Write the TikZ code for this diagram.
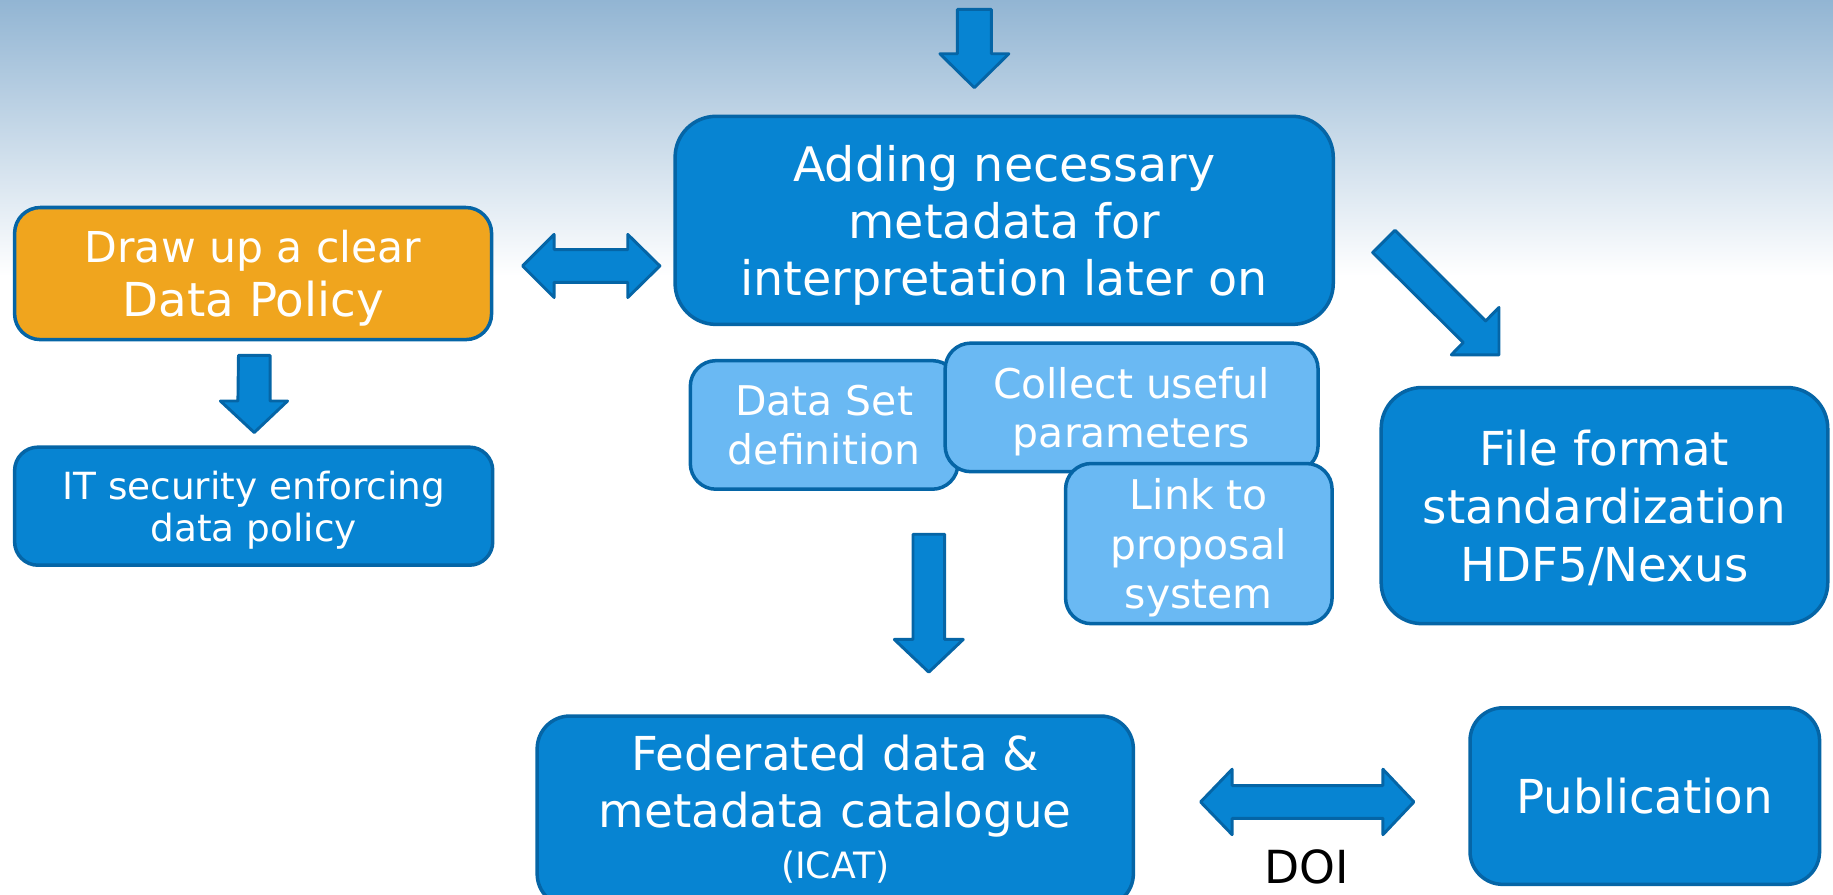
\documentclass[tikz,border=0pt]{standalone}
\usepackage{fontspec}
\setmainfont{DejaVu Sans}
\usetikzlibrary{calc}

\definecolor{boxblue}{RGB}{7,132,210}
\definecolor{edgeblue}{RGB}{5,101,166}
\definecolor{paleblue}{RGB}{106,185,243}
\definecolor{policyorange}{RGB}{240,165,30}
\definecolor{skyblue}{RGB}{146,181,211}

\tikzset{
  box/.style={draw=edgeblue, line width=3pt, fill=boxblue, text=white,
    align=center, inner sep=0pt, rounded corners=#1, text depth=0pt},
  box/.default=30pt,
  subbox/.style={box=22pt, fill=paleblue},
  blockarrow/.style={draw=edgeblue, line width=2.5pt, fill=boxblue, line join=round},
  big/.style={font=\fontsize{40}{49}\selectfont},
}

\begin{document}
\begin{tikzpicture}[x=1pt, y=-1pt]
  \useasboundingbox (0,0) rectangle (1568,765);

  % sky band at the top
  \fill[top color=skyblue, bottom color=white] (0,0) rectangle (1568,236);

  % boxes
  \node[box=35pt, font=\fontsize{40.7}{49}\selectfont, minimum width=563pt, minimum height=178pt] (meta)
    at (859,188.5) {Adding necessary\\metadata for\\interpretation later on};

  \node[box=22pt, fill=policyorange, minimum width=408pt, minimum height=113pt,
    font=\fontsize{40}{46}\selectfont] (policy)
    at (216.5,234) {{\fontsize{36.4}{44}\selectfont Draw up a clear}\\Data Policy};

  \node[box=20pt, minimum width=409pt, minimum height=101pt,
    font=\fontsize{32}{36}\selectfont] (itsec)
    at (217,433) {IT security enforcing\\data policy};

  \node[subbox, minimum width=229pt, minimum height=110pt, text depth=-4pt,
    font=\fontsize{35}{42}\selectfont] (dataset)
    at (705,363.5) {Data Set\\definition};
  \node[subbox, minimum width=319pt, minimum height=110pt,
    font=\fontsize{35}{42}\selectfont] (collect)
    at (968,348.5) {Collect useful\\parameters};
  \node[subbox, minimum width=228pt, minimum height=137pt,
    font=\fontsize{35}{42.5}\selectfont] (link)
    at (1025.5,465) {Link to\\proposal\\system};

  \node[box=35pt, minimum width=382pt, minimum height=202pt,
    font=\fontsize{40}{49.5}\selectfont] (format)
    at (1372.5,432.5) {File format\\standardization\\HDF5/Nexus};

  \node[box=28pt, big, minimum width=510pt, minimum height=163pt, text depth=8pt] (catalogue)
    at (714.5,694) {Federated data \&\\metadata catalogue\\[-6pt]{\fontsize{31}{40}\selectfont (ICAT)}};

  \node[box=28pt, big, minimum width=299pt, minimum height=151pt] (publication)
    at (1407,681) {Publication};

  \node[font=\fontsize{39}{46}\selectfont, text=black, inner sep=0pt, anchor=base]
    (doi) at (1118,756) {DOI};

  % block arrows
  \coordinate (inflow) at (833.5,8);
  \draw[blockarrow] (inflow) ++(-14.5,0) -- ++(29,0) -- ++(0,38) -- ++(15,0)
    -- (833.5,75) -- ++(-29.5,-29) -- ++(15,0) -- cycle;

  \coordinate (policyout) at (217.5,304);
  \draw[blockarrow] (policyout) ++(-13.5,0) -- ++(27,0) -- ++(0,39) -- ++(15,0)
    -- (217.5,370) -- ++(-29,-27) -- ++(15,0) -- cycle;

  \coordinate (metaout) at (794.5,457);
  \draw[blockarrow] (metaout) ++(-13.5,0) -- ++(27,0) -- ++(0,90) -- ++(16,0)
    -- (794.5,575) -- ++(-29.5,-28) -- ++(16,0) -- cycle;

  \draw[blockarrow] (447,227.5) -- (474,200.5) -- (474,213.5) -- (537,213.5)
    -- (537,200.5) -- (564.5,227.5) -- (537,254.5) -- (537,241.5)
    -- (474,241.5) -- (474,254.5) -- cycle;

  \draw[blockarrow] (1027,686) -- (1054,658) -- (1054,672) -- (1183,672)
    -- (1183,658) -- (1209.5,686) -- (1183,714) -- (1183,700)
    -- (1054,700) -- (1054,714) -- cycle;

  \draw[blockarrow] (1193.3,197) -- (1270.9,274.5) -- (1282.3,263)
    -- (1282.3,303.5) -- (1241.5,303.5) -- (1251.7,293)
    -- (1174.2,216) -- cycle;
\end{tikzpicture}
\end{document}
